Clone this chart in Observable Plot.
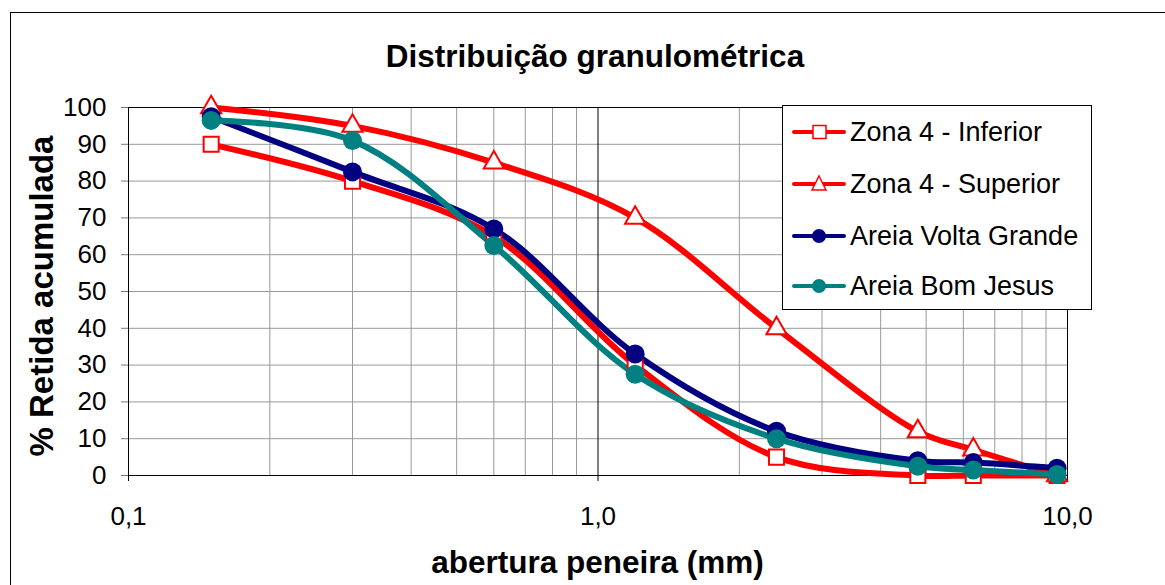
<!DOCTYPE html>
<html>
<head>
<meta charset="utf-8">
<script src="https://cdn.jsdelivr.net/npm/d3@7"></script>
<script src="https://cdn.jsdelivr.net/npm/@observablehq/plot@0.6"></script>
<style>
  html, body { margin: 0; padding: 0; background: #fff; overflow: hidden; }
  body { width: 1165px; height: 585px; font-family: "Liberation Sans", Arial, sans-serif; }
  #wrap { position: relative; width: 1165px; height: 585px; overflow: hidden; }
  #border { position: absolute; left: 10px; top: 12px; width: 1400px; height: 800px; border: 1.5px solid #000; box-sizing: border-box; }
  #chart { position: absolute; left: 0; top: 0; }
  .title { position: absolute; left: 0; width: 1190px; top: 38px; text-align: center; font-weight: bold; font-size: 31.5px; line-height: 36px; color: #000; }
  .xlabel { position: absolute; left: 0; width: 1195px; top: 544px; text-align: center; font-weight: bold; font-size: 31.5px; line-height: 36px; color: #000; }
  .ylabel { position: absolute; left: 42px; top: 296px; transform: translate(-50%, -50%) rotate(-90deg); white-space: nowrap; font-weight: bold; font-size: 33px; line-height: 36px; color: #000; }
  #legend { position: absolute; left: 782px; top: 105px; width: 310px; height: 205px; border: 1px solid #000; background: #fff; box-sizing: border-box; }
  .item { position: absolute; left: 8px; height: 40px; display: flex; align-items: center; font-size: 27px; color: #000; white-space: nowrap; }
  .item svg { margin-right: 3px; }
</style>
</head>
<body>
<div id="wrap">
  <div id="border"></div>
  <div id="chart"></div>
  <div class="title">Distribuição granulométrica</div>
  <div class="ylabel">% Retida acumulada</div>
  <div class="xlabel">abertura peneira (mm)</div>
  <div id="legend"></div>
</div>
<script>
// Data
const sieves = [0.15, 0.3, 0.6, 1.2, 2.4, 4.8, 6.3, 9.5];
const zonaInferior = [90, 80, 65, 30, 5, 0, 0, 0];
const zonaSuperior = [100, 95, 85, 70, 40, 12, 7, 0];
const voltaGrande = [97.5, 82.5, 67, 33, 12, 4, 3.5, 2];
const bomJesus = [96.5, 91, 62.5, 27.5, 10, 2.5, 1.5, 0.3];
const seriesNames = ["Zona 4 - Inferior", "Zona 4 - Superior", "Areia Volta Grande", "Areia Bom Jesus"];
const seriesValues = [zonaInferior, zonaSuperior, voltaGrande, bomJesus];
const seriesColors = ["#ff0000", "#ff0000", "#000080", "#008080"];
const seriesSymbols = ["square", "triangle", "circle", "circle"];
const xTicks = [0.1, 1, 10];
const xMinor = [0.2, 0.3, 0.4, 0.5, 0.6, 0.7, 0.8, 0.9, 2, 3, 4, 5, 6, 7, 8, 9];
const yTicks = [0, 10, 20, 30, 40, 50, 60, 70, 80, 90, 100];

const rows = seriesNames.map((name, i) => sieves.map((s, j) => ({series: name, idx: i, x: s, y: seriesValues[i][j]})));

const marks = [
  Plot.gridX(xMinor, {stroke: "#999", strokeOpacity: 1, strokeWidth: 1}),
  Plot.gridY(yTicks, {stroke: "#999", strokeOpacity: 1, strokeWidth: 1}),
  Plot.gridX([1], {stroke: "#000", strokeOpacity: 1, strokeWidth: 1}),
  Plot.frame({stroke: "#000", strokeWidth: 1}),
  Plot.axisX(xTicks, {tickSize: 6, tickPadding: 25, fontSize: 26, tickFormat: d => d.toFixed(1).replace(".", ","), label: null, stroke: "#000"}),
  Plot.axisY(yTicks, {tickSize: 7, tickPadding: 15, fontSize: 26, label: null, stroke: "#777"})
];
rows.forEach((data, i) => {
  marks.push(Plot.line(data, {x: "x", y: "y", stroke: seriesColors[i], strokeWidth: 6, curve: "catmull-rom"}));
});
rows.forEach((data, i) => {
  const sym = seriesSymbols[i];
  if (sym === "circle") {
    marks.push(Plot.dot(data, {x: "x", y: "y", r: 9.5, fill: seriesColors[i], stroke: "none"}));
  } else {
    marks.push(Plot.dot(data, {x: "x", y: "y", symbol: sym, r: sym === "square" ? 8.5 : 7.5, fill: "#fff", stroke: seriesColors[i], strokeWidth: 2}));
  }
});

const chart = Plot.plot({
  width: 1165,
  height: 585,
  marginLeft: 128,
  marginRight: 98,
  marginTop: 107,
  marginBottom: 110,
  style: {fontFamily: '"Liberation Sans", Arial, sans-serif', color: "#000", background: "transparent"},
  x: {type: "log", domain: [0.1, 10]},
  y: {domain: [0, 100]},
  marks
});
document.getElementById("chart").appendChild(chart);

// Legend
const legend = d3.select("#legend");
const rowTops = [6, 58, 110, 160];
seriesNames.forEach((name, i) => {
  const item = legend.append("div").attr("class", "item").style("top", rowTops[i] + "px");
  const svg = item.append("svg").attr("width", 56).attr("height", 24);
  svg.append("line").attr("x1", 3).attr("x2", 53).attr("y1", 12).attr("y2", 12)
    .attr("stroke", seriesColors[i]).attr("stroke-width", 4).attr("stroke-linecap", "round");
  const sym = seriesSymbols[i];
  if (sym === "circle") {
    svg.append("circle").attr("cx", 28).attr("cy", 12).attr("r", 7).attr("fill", seriesColors[i]);
  } else if (sym === "square") {
    svg.append("rect").attr("x", 22).attr("y", 5.5).attr("width", 13).attr("height", 13).attr("fill", "#fff").attr("stroke", seriesColors[i]).attr("stroke-width", 1.5);
  } else {
    svg.append("path").attr("d", "M28,4 L35,18 L21,18 Z").attr("fill", "#fff").attr("stroke", seriesColors[i]).attr("stroke-width", 1.5);
  }
  item.append("span").text(name);
});
</script>
</body>
</html>
